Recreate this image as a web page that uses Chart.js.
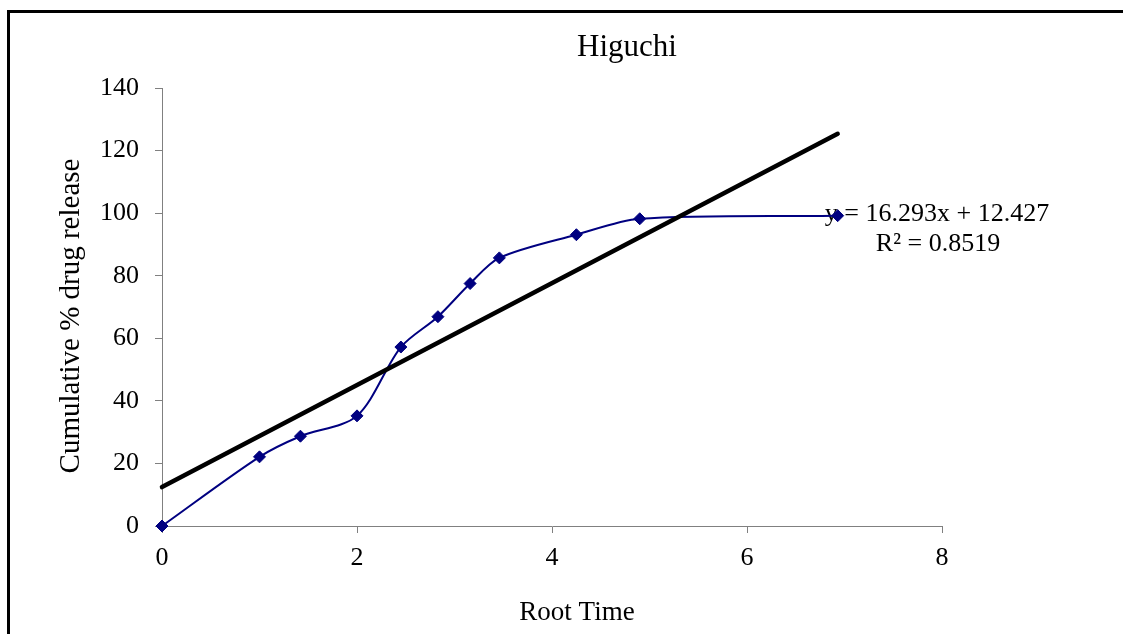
<!DOCTYPE html>
<html>
<head>
<meta charset="utf-8">
<title>Higuchi</title>
<script src="https://cdn.jsdelivr.net/npm/chart.js@4/dist/chart.umd.min.js"></script>
<style>
    body { margin: 0; background: #fff; overflow: hidden; }
    #wrap { position: relative; width: 1123px; height: 634px; }
    #frame { position: absolute; left: 7px; top: 10px; width: 2000px; height: 2000px;
             border-left: 3px solid #000; border-top: 3px solid #000; box-sizing: border-box; }
    #chart { position: absolute; left: 0; top: 0; }
</style>
</head>
<body>
<div id="wrap">
    <div id="frame"></div>
    <canvas id="chart" width="1123" height="634"></canvas>
</div>
<script>
// Dữ liệu
const rootTime = [0, 1, 1.42, 2, 2.45, 2.83, 3.16, 3.46, 4.25, 4.90, 6.93];
const drugRelease = [0, 22.1, 28.7, 35.2, 57.2, 66.9, 77.5, 85.7, 93.1, 98.2, 99.2];

// Đường xu hướng (hai đầu mút)
const trendX = [0, 6.93];
const trendY = [12.43, 125.34];

const chartTitle = 'Higuchi';
const xTitle = 'Root Time';
const yTitle = 'Cumulative % drug release';
const equationLines = ['y = 16.293x + 12.427', 'R² = 0.8519'];

const serif = 'Liberation Serif';
const gray = '#808080';

// Vẽ tiêu đề, tên trục và phương trình (trước các dataset)
const textPlugin = {
    id: 'textPlugin',
    beforeDatasetsDraw(chart) {
        const ctx = chart.ctx;
        ctx.save();
        ctx.fillStyle = '#000';
        ctx.textAlign = 'center';
        ctx.textBaseline = 'alphabetic';
        ctx.font = '31px "' + serif + '"';
        ctx.fillText(chartTitle, 627, 56);
        ctx.font = '26px "' + serif + '"';
        ctx.fillText(equationLines[0], 937, 221);
        ctx.fillText(equationLines[1], 938, 251);
        ctx.font = '27px "' + serif + '"';
        ctx.fillText(xTitle, 577, 620);
        // Tên trục Y xoay dọc
        ctx.translate(79, 316);
        ctx.rotate(-Math.PI / 2);
        ctx.font = '29px "' + serif + '"';
        ctx.fillText(yTitle, 0, 0);
        ctx.restore();
    }
};

const ctx = document.getElementById('chart').getContext('2d');
const chartInstance = new Chart(ctx, {
    type: 'scatter',
    data: {
        datasets: [
            {
                label: 'Trend',
                data: trendX.map((x, i) => ({ x: x, y: trendY[i] })),
                showLine: true,
                borderColor: '#000',
                borderWidth: 4.5,
                borderCapStyle: 'round',
                pointRadius: 0,
                order: 0,
                clip: false,
            },
            {
                label: 'Higuchi',
                data: rootTime.map((x, i) => ({ x: x, y: drugRelease[i] })),
                showLine: true,
                borderColor: '#000080',
                backgroundColor: '#000080',
                borderWidth: 2,
                tension: 0.3,
                pointStyle: 'rectRot',
                pointRadius: 6,
                pointBorderWidth: 1,
                pointBorderColor: '#000080',
                pointBackgroundColor: '#000080',
                order: 1,
                clip: false,
            },
        ],
    },
    options: {
        responsive: false,
        animation: false,
        devicePixelRatio: 1,
        layout: { padding: { left: 47, top: 88, right: 181, bottom: 3 } },
        plugins: {
            legend: { display: false },
            tooltip: { enabled: false },
        },
        scales: {
            x: {
                type: 'linear',
                min: 0,
                max: 8,
                afterFit: (scale) => { scale.height = 105; },
                ticks: { stepSize: 2, color: '#000', padding: 10, font: { family: serif, size: 26 } },
                grid: { drawOnChartArea: false, drawTicks: true, tickLength: 7, color: gray },
                border: { display: true, color: gray, width: 1 },
                title: { display: false, text: xTitle },
            },
            y: {
                type: 'linear',
                min: 0,
                max: 140,
                afterFit: (scale) => { scale.width = 115; },
                ticks: { stepSize: 20, color: '#000', padding: 16, font: { family: serif, size: 26 } },
                grid: { drawOnChartArea: false, drawTicks: true, tickLength: 7, color: gray },
                border: { display: true, color: gray, width: 1 },
                title: { display: false, text: yTitle },
            },
        },
    },
    plugins: [textPlugin],
});
</script>
</body>
</html>
